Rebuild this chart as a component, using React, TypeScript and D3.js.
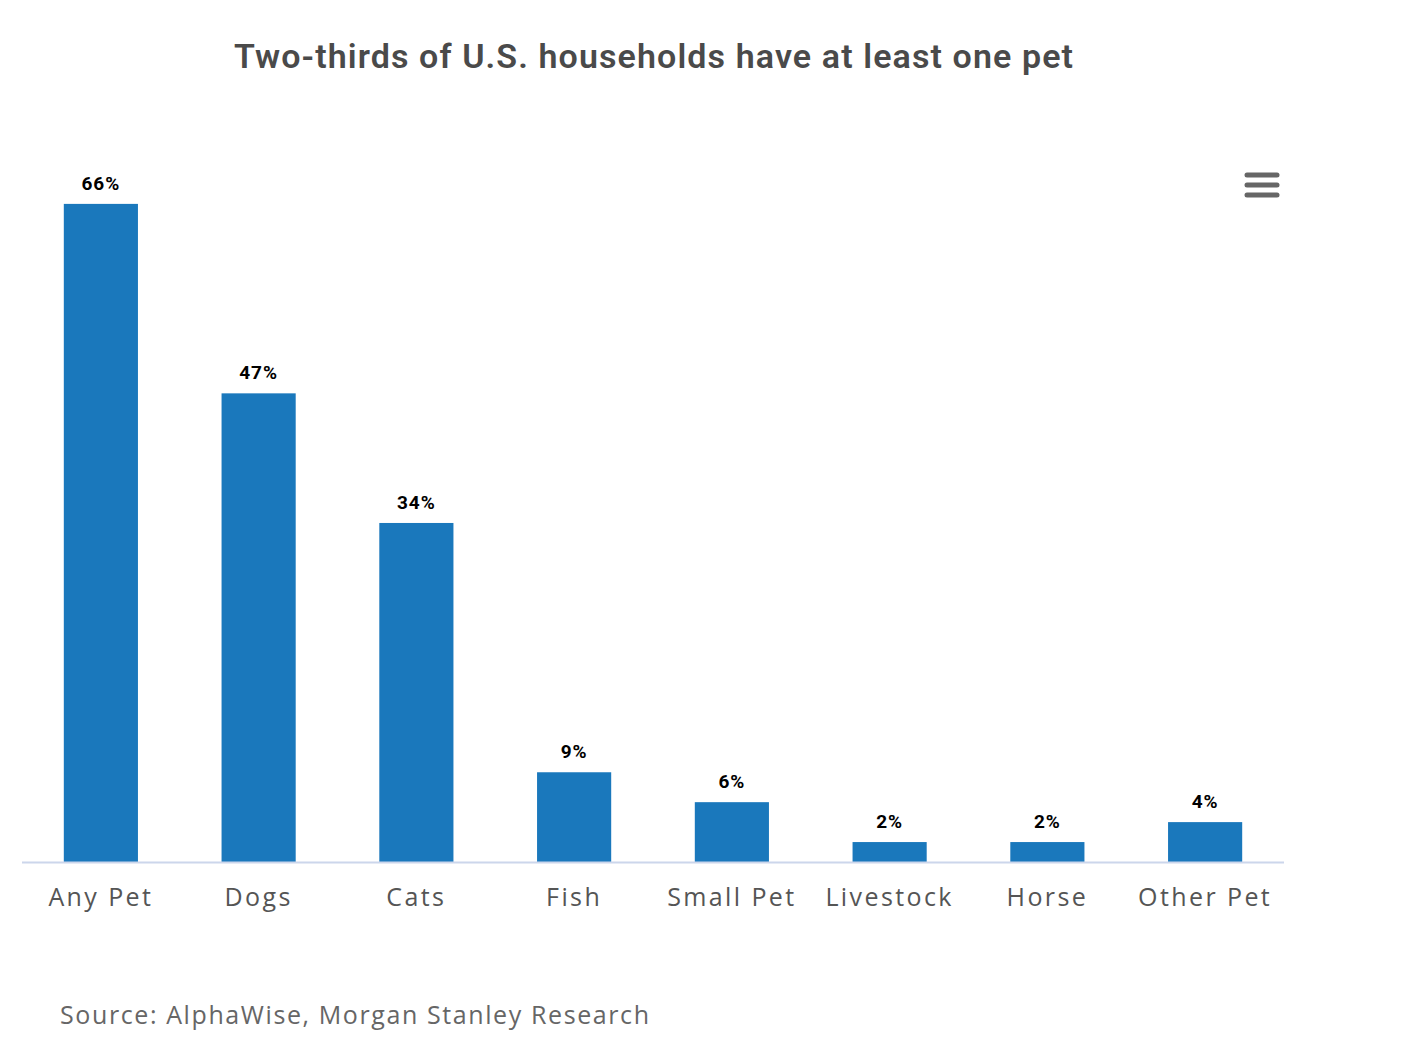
import React from "react";
import { scaleBand, scaleLinear } from "d3";

const categories = ["Any Pet", "Dogs", "Cats", "Fish", "Small Pet", "Livestock", "Horse", "Other Pet"];
const shares = [66, 47, 34, 9, 6, 2, 2, 4];

const title = "Two-thirds of U.S. households have at least one pet";
const source = "Source: AlphaWise, Morgan Stanley Research";

export default function App() {
  const width = 1412;
  const height = 1040;
  const plotLeft = 14;
  const plotRight = 1276;
  const baseline = 854;

  const x = scaleBand<string>().domain(categories).range([plotLeft, plotRight]).paddingInner(0.53).paddingOuter(0.265);
  const y = scaleLinear().domain([0, 70]).range([baseline, baseline - 698]);

  return (
    <svg width={width} height={height} style={{ display: "block", fontFamily: "'Open Sans', sans-serif" }}>
      <text x={646} y={60} textAnchor="middle" fontFamily="Roboto, sans-serif" fontWeight={600} fontSize={34} letterSpacing={1.1} fill="#4a4a4a">
        {title}
      </text>

      {/* menu icon */}
      {[0, 1, 2].map((i) => (
        <line key={i} x1={1239} x2={1269} y1={167 + i * 10} y2={167 + i * 10} stroke="#666" strokeWidth={5} strokeLinecap="round" />
      ))}

      {categories.map((c, i) => (
        <g key={c}>
          <rect x={x(c)} y={y(shares[i])} width={x.bandwidth()} height={baseline - y(shares[i])} fill="#1a78bc" />
          <text x={(x(c) ?? 0) + x.bandwidth() / 2} y={y(shares[i]) - 14} textAnchor="middle" fontFamily="Roboto, sans-serif" fontWeight={700} fontSize={19} letterSpacing={1} fill="#000">
            {shares[i]}%
          </text>
          <text x={(x(c) ?? 0) + x.bandwidth() / 2} y={898} textAnchor="middle" fontSize={25} letterSpacing={2.4} fill="#555">
            {c}
          </text>
        </g>
      ))}

      <line x1={plotLeft} x2={plotRight} y1={baseline + 0.5} y2={baseline + 0.5} stroke="#ccd6eb" strokeWidth={2} />

      <text x={52} y={1016} fontSize={25} letterSpacing={1.6} fill="#666">
        {source}
      </text>
    </svg>
  );
}
